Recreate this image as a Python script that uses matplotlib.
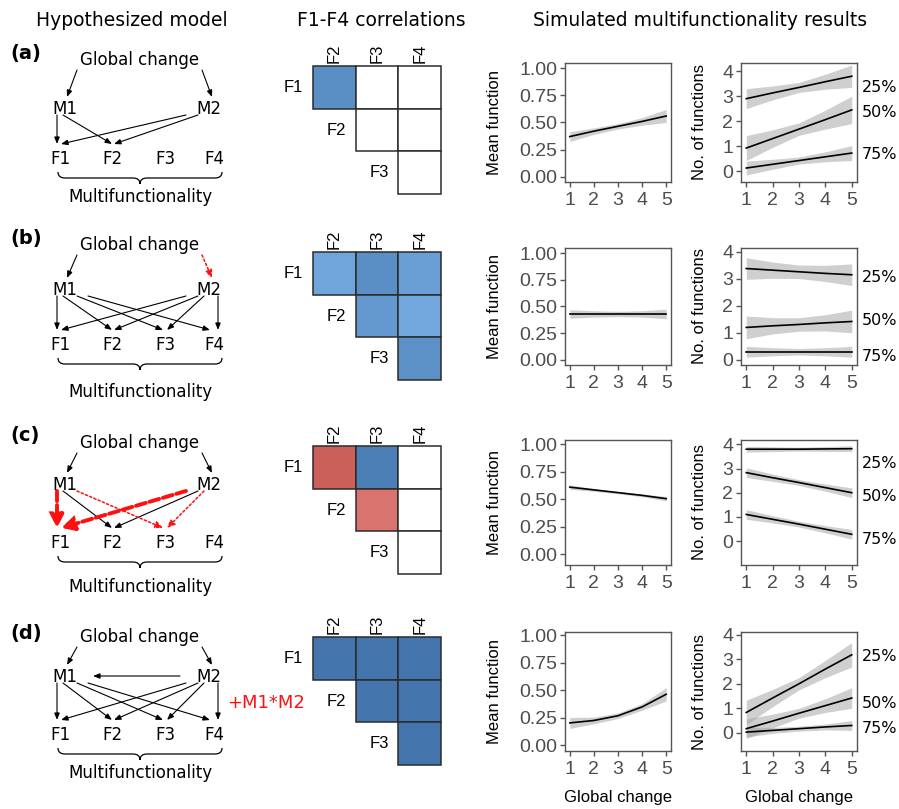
import numpy as np
import matplotlib
matplotlib.use("Agg")
import matplotlib.pyplot as plt
from matplotlib.patches import FancyArrowPatch, PathPatch, Rectangle
from matplotlib.path import Path
from matplotlib.colors import LinearSegmentedColormap, Normalize
from matplotlib.transforms import blended_transform_factory

W, H = 899, 809
nan = np.nan

panel_ids = ['(a)', '(b)', '(c)', '(d)']
func_names = ['F1', 'F2', 'F3', 'F4']
pct_names = ['25%', '50%', '75%']
x_change = [1, 2, 3, 4, 5]

# F1-F4 correlations, rows F1..F3, columns F2..F4 (upper triangle)
corr_a = [[0.70, 0.00, 0.00], [nan, 0.00, 0.00], [nan, nan, 0.00]]
corr_b = [[0.42, 0.70, 0.50], [nan, 0.57, 0.38], [nan, nan, 0.68]]
corr_c = [[-0.75, 0.85, 0.00], [nan, -0.55, 0.00], [nan, nan, 0.00]]
corr_d = [[0.93, 0.93, 0.93], [nan, 0.93, 0.93], [nan, nan, 0.93]]

# hypothesized paths: (from, to, style)
edges_a = [('G', 'M1', 'k'), ('G', 'M2', 'k'),
           ('M1', 'F1', 'k'), ('M1', 'F2', 'k'), ('M2', 'F1', 'k'), ('M2', 'F2', 'k')]
edges_b = [('G', 'M1', 'k'), ('G', 'M2', 'dot'),
           ('M1', 'F1', 'k'), ('M1', 'F2', 'k'), ('M1', 'F3', 'k'), ('M1', 'F4', 'k'),
           ('M2', 'F1', 'k'), ('M2', 'F2', 'k'), ('M2', 'F3', 'k'), ('M2', 'F4', 'k')]
edges_c = [('G', 'M1', 'k'), ('G', 'M2', 'k'),
           ('M1', 'F1', 'dash'), ('M1', 'F2', 'k'), ('M1', 'F3', 'dot'),
           ('M2', 'F1', 'dash'), ('M2', 'F2', 'k'), ('M2', 'F3', 'dot')]
edges_d = [('G', 'M1', 'k'), ('G', 'M2', 'k'), ('M2', 'M1', 'k'),
           ('M1', 'F1', 'k'), ('M1', 'F2', 'k'), ('M1', 'F3', 'k'), ('M1', 'F4', 'k'),
           ('M2', 'F1', 'k'), ('M2', 'F2', 'k'), ('M2', 'F3', 'k'), ('M2', 'F4', 'k')]

# simulated results: mean function (fit and half-width of ribbon)
mean_fit = [[0.37, 0.42, 0.465, 0.51, 0.56],
            [0.43, 0.43, 0.43, 0.43, 0.43],
            [0.61, 0.585, 0.56, 0.535, 0.505],
            [0.205, 0.227, 0.27, 0.35, 0.465]]
mean_half = [[0.045, 0.03, 0.025, 0.035, 0.06],
             [0.04, 0.03, 0.025, 0.03, 0.045],
             [0.02, 0.012, 0.01, 0.012, 0.02],
             [0.05, 0.03, 0.025, 0.03, 0.06]]

# number of functions above threshold 25% / 50% / 75%
n25_fit = [[2.9, 3.13, 3.35, 3.58, 3.8],
           [3.38, 3.32, 3.26, 3.2, 3.15],
           [3.8, 3.8, 3.8, 3.81, 3.82],
           [0.83, 1.42, 2.0, 2.6, 3.18]]
n25_half = [[0.4, 0.28, 0.2, 0.3, 0.45],
            [0.4, 0.3, 0.25, 0.3, 0.4],
            [0.12, 0.1, 0.08, 0.1, 0.12],
            [0.5, 0.35, 0.25, 0.35, 0.5]]
n50_fit = [[0.92, 1.3, 1.68, 2.06, 2.45],
           [1.2, 1.26, 1.31, 1.37, 1.42],
           [2.83, 2.62, 2.42, 2.21, 2.0],
           [0.17, 0.48, 0.8, 1.11, 1.42]]
n50_half = [[0.5, 0.35, 0.25, 0.38, 0.55],
            [0.42, 0.3, 0.25, 0.3, 0.42],
            [0.2, 0.15, 0.12, 0.15, 0.2],
            [0.4, 0.28, 0.2, 0.28, 0.42]]
n75_fit = [[0.12, 0.27, 0.42, 0.57, 0.72],
           [0.3, 0.3, 0.3, 0.3, 0.3],
           [1.1, 0.9, 0.7, 0.49, 0.28],
           [0.03, 0.1, 0.17, 0.24, 0.3]]
n75_half = [[0.28, 0.2, 0.14, 0.2, 0.3],
            [0.2, 0.15, 0.12, 0.15, 0.2],
            [0.2, 0.15, 0.12, 0.15, 0.2],
            [0.2, 0.12, 0.1, 0.12, 0.2]]
pct_label_y = [[3.35, 2.33, 0.67], [3.06, 1.47, 0.12], [3.19, 1.83, 0.07], [3.12, 1.2, 0.18]]
n_ylim = [(-0.44, 4.33), (-0.19, 4.14), (-0.99, 4.18), (-0.74, 4.11)]
mean_ylim = [(-0.05, 1.05), (-0.05, 1.05), (-0.10, 1.04), (-0.05, 1.03)]

# ---- layout (pixels) ----
row_y = [  # global change, M row, F row, multifunctionality, panel label
    (60, 109, 159, 197, 53),
    (245, 290, 345, 392, 238),
    (443, 485, 543, 587, 435),
    (637, 677, 735, 773, 633),
]
node_x = {'G': 140, 'M1': 65, 'M2': 209, 'F1': 60, 'F2': 112, 'F3': 165, 'F4': 214}
m1_start = [57, 63, 77, 88]
m1_end = [57, 112, 163, 210]
m2_start = [186, 198, 204, 218]
m2_end = [61, 114, 167, 218]
hm_top = [66, 252, 446, 637]
cell = 42.7
box_top = [63, 248, 440, 632]
box_bot = [182, 365, 565, 751]

fig = plt.figure(figsize=(W / 100, H / 100), dpi=100)
fig.patch.set_facecolor('white')


def px_axes(left, top, right, bottom):
    return fig.add_axes([left / W, 1 - bottom / H, (right - left) / W, (bottom - top) / H])


ov = fig.add_axes([0, 0, 1, 1])
ov.set_xlim(0, W)
ov.set_ylim(H, 0)
ov.axis('off')

# column titles
ov.text(132, 20, 'Hypothesized model', ha='center', va='center', fontsize=13.5)
ov.text(381, 20, 'F1-F4 correlations', ha='center', va='center', fontsize=13.5)
ov.text(700, 20, 'Simulated multifunctionality results', ha='center', va='center', fontsize=13.5)

styles = {
    'k': dict(color='black', lw=0.8, ls='-', arrowstyle='-|>,head_length=0.4,head_width=0.16'),
    'dot': dict(color='#ff1010', lw=1.1, ls=(0, (1.5, 1.5)), arrowstyle='-|>,head_length=0.45,head_width=0.2'),
    'dash': dict(color='#ff1010', lw=2.8, ls=(0, (2.6, 1.0)), arrowstyle='-|>,head_length=0.75,head_width=0.38'),
}


def endpoints(src, dst, ys):
    yG, yM, yF = ys
    if src == 'G':
        if dst == 'M1':
            return (77, yG + 10), (67, yM - 12)
        return (202, yG + 10), (212, yM - 12)
    if src == 'M2' and dst == 'M1':
        return (180, yM - 1), (93, yM - 1)
    k = int(dst[1]) - 1
    if src == 'M1':
        return (m1_start[k], yM + 6), (m1_end[k], yF - 15)
    return (m2_start[k], yM + 6), (m2_end[k], yF - 15)


def brace(ax, x0, x1, y0, h):
    xm = (x0 + x1) / 2
    q = 7
    ym = y0 + h / 2
    verts = [(x0, y0), (x0, ym), (x0 + q, ym), (xm - q, ym), (xm, ym), (xm, y0 + h),
             (xm, ym), (xm + q, ym), (x1 - q, ym), (x1, ym), (x1, y0)]
    codes = [Path.MOVETO, Path.CURVE3, Path.CURVE3, Path.LINETO, Path.CURVE3, Path.CURVE3,
             Path.CURVE3, Path.CURVE3, Path.LINETO, Path.CURVE3, Path.CURVE3]
    ax.add_patch(PathPatch(Path(verts, codes), fill=False, lw=0.9, color='black'))


all_edges = [edges_a, edges_b, edges_c, edges_d]
for r in range(4):
    yG, yM, yF, yMF, yL = row_y[r]
    ov.text(10, yL, panel_ids[r], ha='left', va='center', fontsize=14, fontweight='bold')
    ov.text(node_x['G'], yG, 'Global change', ha='center', va='center', fontsize=12)
    ov.text(node_x['M1'], yM, 'M1', ha='center', va='center', fontsize=12)
    ov.text(node_x['M2'], yM, 'M2', ha='center', va='center', fontsize=12)
    for f in func_names:
        ov.text(node_x[f], yF, f, ha='center', va='center', fontsize=12)
    brace(ov, 58, 222, yF + 13, 12)
    ov.text(140, yMF, 'Multifunctionality', ha='center', va='center', fontsize=12)
    # solid first, red on top
    order = sorted(all_edges[r], key=lambda e: e[2] != 'k')
    for src, dst, st in order:
        p0, p1 = endpoints(src, dst, (yG, yM, yF))
        s = styles[st]
        ov.add_patch(FancyArrowPatch(p0, p1, arrowstyle=s['arrowstyle'], mutation_scale=10,
                                     color=s['color'], lw=s['lw'], linestyle=s['ls'],
                                     shrinkA=0, shrinkB=0, joinstyle='miter'))

ov.text(227, 703, '+M1*M2', ha='left', va='center', fontsize=13, color='#ff1010')

# ---- correlation heatmaps ----
cmap = LinearSegmentedColormap.from_list('corr', [
    (0.0, '#b9433f'), (0.25, '#dc7a73'), (0.5, '#ffffff'),
    (0.675, '#74abe0'), (0.85, '#5a8fc6'), (1.0, '#3e6fa6')], N=257)
norm = Normalize(-1, 1)

for r, c in enumerate([corr_a, corr_b, corr_c, corr_d]):
    top = hm_top[r]
    axh = px_axes(313, top, 313 + 3 * cell, top + 3 * cell)
    axh.set_xlim(0, 3)
    axh.set_ylim(3, 0)
    axh.axis('off')
    for i in range(3):
        for j in range(3):
            v = c[i][j]
            if np.isnan(v):
                continue
            axh.add_patch(Rectangle((j, i), 1, 1, facecolor=cmap(norm(v)), edgecolor='#2b2b2b',
                                    lw=1.1, clip_on=False))
    for j in range(3):
        axh.text(j + 0.5, -0.3, func_names[j + 1], rotation=90, ha='center', va='center',
                 fontsize=12, family='Liberation Sans')
    for i in range(3):
        axh.text(i - 0.45, i + 0.5, func_names[i], ha='center', va='center',
                 fontsize=12, family='Liberation Sans')


# ---- simulated results ----
def style_axes(ax):
    ax.set_xlim(0.8, 5.2)
    ax.set_xticks(x_change)
    for sp in ax.spines.values():
        sp.set_color('#555555')
        sp.set_linewidth(1.0)
    ax.tick_params(direction='out', length=3.5, width=1.0, color='#555555',
                   labelsize=14, labelcolor='#4d4d4d', pad=2)
    ax.tick_params(axis='x', pad=4)
    for lbl in ax.get_xticklabels() + ax.get_yticklabels():
        lbl.set_family('Liberation Sans')


for r in range(4):
    axm = px_axes(565, box_top[r], 671, box_bot[r])
    lo = np.array(mean_fit[r]) - np.array(mean_half[r])
    hi = np.array(mean_fit[r]) + np.array(mean_half[r])
    axm.fill_between(x_change, lo, hi, color='#a0a0a0', alpha=0.5, lw=0)
    axm.plot(x_change, mean_fit[r], color='black', lw=1.2)
    axm.set_ylim(*mean_ylim[r])
    axm.set_yticks([0, 0.25, 0.5, 0.75, 1.0])
    axm.set_yticklabels(['0.00', '0.25', '0.50', '0.75', '1.00'])
    style_axes(axm)
    axm.set_ylabel('Mean function', fontsize=12, family='Liberation Sans')
    axm.yaxis.set_label_coords(-0.59, 0.5)

    axn = px_axes(741, box_top[r], 857, box_bot[r])
    for fit, half in [(n25_fit, n25_half), (n50_fit, n50_half), (n75_fit, n75_half)]:
        f = np.array(fit[r])
        h = np.array(half[r])
        axn.fill_between(x_change, f - h, f + h, color='#a0a0a0', alpha=0.5, lw=0)
    for fit in [n25_fit, n50_fit, n75_fit]:
        axn.plot(x_change, fit[r], color='black', lw=1.2)
    axn.set_ylim(*n_ylim[r])
    axn.set_yticks([0, 1, 2, 3, 4])
    style_axes(axn)
    axn.set_ylabel('No. of functions', fontsize=12, family='Liberation Sans')
    axn.yaxis.set_label_coords(-0.29, 0.5)
    tr = blended_transform_factory(axn.transAxes, axn.transData)
    for k in range(3):
        axn.text(1.04, pct_label_y[r][k], pct_names[k], transform=tr, ha='left', va='center',
                 fontsize=11.5, clip_on=False)

    if r == 3:
        for ax in (axm, axn):
            ax.set_xlabel('Global change', fontsize=12, family='Liberation Sans')
            ax.xaxis.set_label_coords(0.5, -0.325)

fig.savefig('out.png', dpi=100, facecolor='white')
